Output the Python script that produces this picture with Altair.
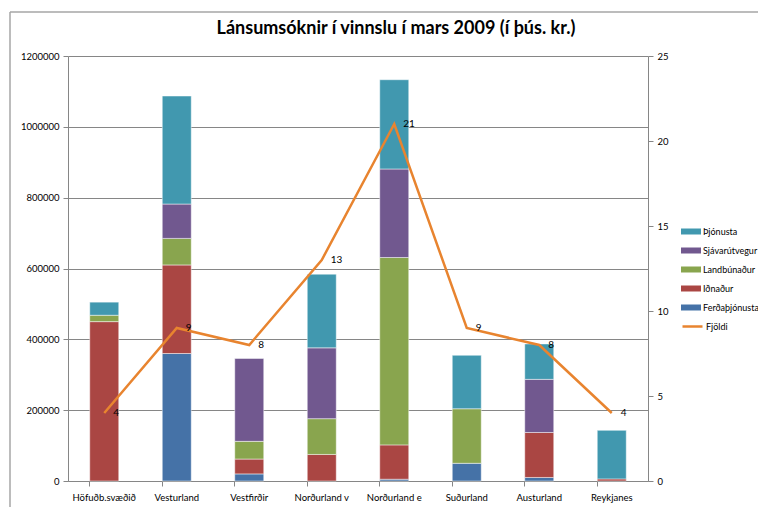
import altair as alt
import pandas as pd

# ---- data ----
categories = ["Höfuðb.svæðið", "Vesturland", "Vestfirðir", "Norðurland v",
              "Norðurland e", "Suðurland", "Austurland", "Reykjanes"]
ferdathjonusta = [0, 360000, 20000, 0, 5000, 50000, 10000, 0]
idnadur = [450000, 250000, 42000, 75000, 97000, 0, 127000, 6000]
landbunadur = [18000, 75000, 50000, 101000, 529000, 154000, 0, 0]
sjavarutvegur = [0, 97000, 234000, 200000, 250000, 0, 150000, 0]
thjonusta = [37000, 305000, 0, 208000, 252000, 151000, 100000, 137000]
fjoldi = [4, 9, 8, 13, 21, 9, 8, 4]

stack_names = ["Ferðaþjónusta", "Iðnaður", "Landbúnaður", "Sjávarútvegur", "Þjónusta"]
legend_names = ["Þjónusta", "Sjávarútvegur", "Landbúnaður", "Iðnaður", "Ferðaþjónusta"]
legend_colors = ["#4198AF", "#71588F", "#89A54E", "#AA4643", "#4572A7"]
line_color = "#E8842F"
y_ticks = [0, 200000, 400000, 600000, 800000, 1000000, 1200000]
y2_ticks = [0, 5, 10, 15, 20, 25]
title_text = "Lánsumsóknir í vinnslu í mars 2009 (í þús. kr.)"

rows = []
for idx, (name, vals) in enumerate(zip(stack_names, [ferdathjonusta, idnadur, landbunadur,
                                                      sjavarutvegur, thjonusta])):
    for c, v in zip(categories, vals):
        if v > 0:
            rows.append({"region": c, "series": name, "value": v, "idx": idx})
bars_df = pd.DataFrame(rows)
line_df = pd.DataFrame({"region": categories, "count": fjoldi, "name": ["Fjöldi"] * len(categories)})

FONT = "Lato"
GRAY = "#868686"

x_enc = alt.X("region:N", sort=categories,
              scale=alt.Scale(paddingInner=0.6, paddingOuter=0.3),
              axis=alt.Axis(title=None, labelAngle=0, bandPosition=0, tickSize=5,
                            labelPadding=6, labelFontSize=9.5, labelColor="black",
                            domainColor=GRAY, tickColor=GRAY, grid=False))

bars = alt.Chart(bars_df).mark_bar(stroke="white", strokeWidth=0.8, strokeOpacity=0.6).encode(
    x=x_enc,
    y=alt.Y("value:Q", stack="zero",
            scale=alt.Scale(domain=[0, 1200000], nice=False),
            axis=alt.Axis(title=None, values=y_ticks, format="d", grid=True,
                          gridColor=GRAY, gridWidth=1, tickSize=5, labelPadding=4,
                          labelFontSize=9.5, labelColor="black",
                          domainColor=GRAY, tickColor=GRAY)),
    fill=alt.Fill("series:N", scale=alt.Scale(domain=legend_names, range=legend_colors),
                  legend=alt.Legend(title=None, orient="none", legendX=613, legendY=168,
                                    symbolType="M-1,-0.3H1V0.3H-1Z", symbolSize=400,
                                    symbolStrokeWidth=0, labelFont=FONT, labelFontSize=9,
                                    labelColor="black", labelOffset=2, clipHeight=15,
                                    rowPadding=4, padding=0)),
    order=alt.Order("idx:Q", sort="ascending"),
)

right_axis = alt.Axis(orient="right", title=None, values=y2_ticks, grid=False,
                      tickSize=5, labelPadding=4, labelFontSize=9.5,
                      labelColor="black", domainColor=GRAY, tickColor=GRAY)
y2_scale = alt.Scale(domain=[0, 25], nice=False)

line = alt.Chart(line_df).mark_line(strokeWidth=2.5).encode(
    x=alt.X("region:N", sort=categories),
    y=alt.Y("count:Q", scale=y2_scale, axis=right_axis),
    stroke=alt.Stroke("name:N", scale=alt.Scale(domain=["Fjöldi"], range=[line_color]),
                      legend=alt.Legend(title=None, orient="none", legendX=613, legendY=263,
                                        symbolType="stroke", symbolSize=400,
                                        symbolStrokeWidth=2.5, labelFont=FONT,
                                        labelFontSize=9, labelColor="black",
                                        labelOffset=2, clipHeight=15, padding=0)),
)

labels = alt.Chart(line_df).mark_text(align="left", baseline="middle", dx=9, fontSize=10,
                                      font=FONT, color="black").encode(
    x=alt.X("region:N", sort=categories),
    y=alt.Y("count:Q", scale=y2_scale, axis=right_axis),
    text="count:Q",
)

frame_top = alt.Chart(alt.Data(values=[{}])).mark_rule(color="#A6A6A6", strokeWidth=1.5).encode(
    x=alt.value(-58), x2=alt.value(700), y=alt.value(-44))
frame_left = alt.Chart(alt.Data(values=[{}])).mark_rule(color="#A6A6A6", strokeWidth=1.5).encode(
    x=alt.value(-58), y=alt.value(-44), y2=alt.value(470))

chart = alt.layer(
    frame_top, frame_left, bars, alt.layer(line, labels)
).resolve_scale(y="independent").properties(
    width=580, height=425,
    autosize=alt.AutoSizeParams(type="none"),
    padding={"left": 60, "top": 48, "right": 110, "bottom": 26},
    title=alt.Title(title_text, font=FONT, fontSize=18, fontWeight="bold", color="black",
                    anchor="middle", frame="group", baseline="alphabetic", offset=16,
                    dx=38, dy=57),
).configure_axis(labelFont=FONT).configure_view(strokeWidth=0)

chart.save("out.html", embed_options={"renderer": "svg", "actions": False})
